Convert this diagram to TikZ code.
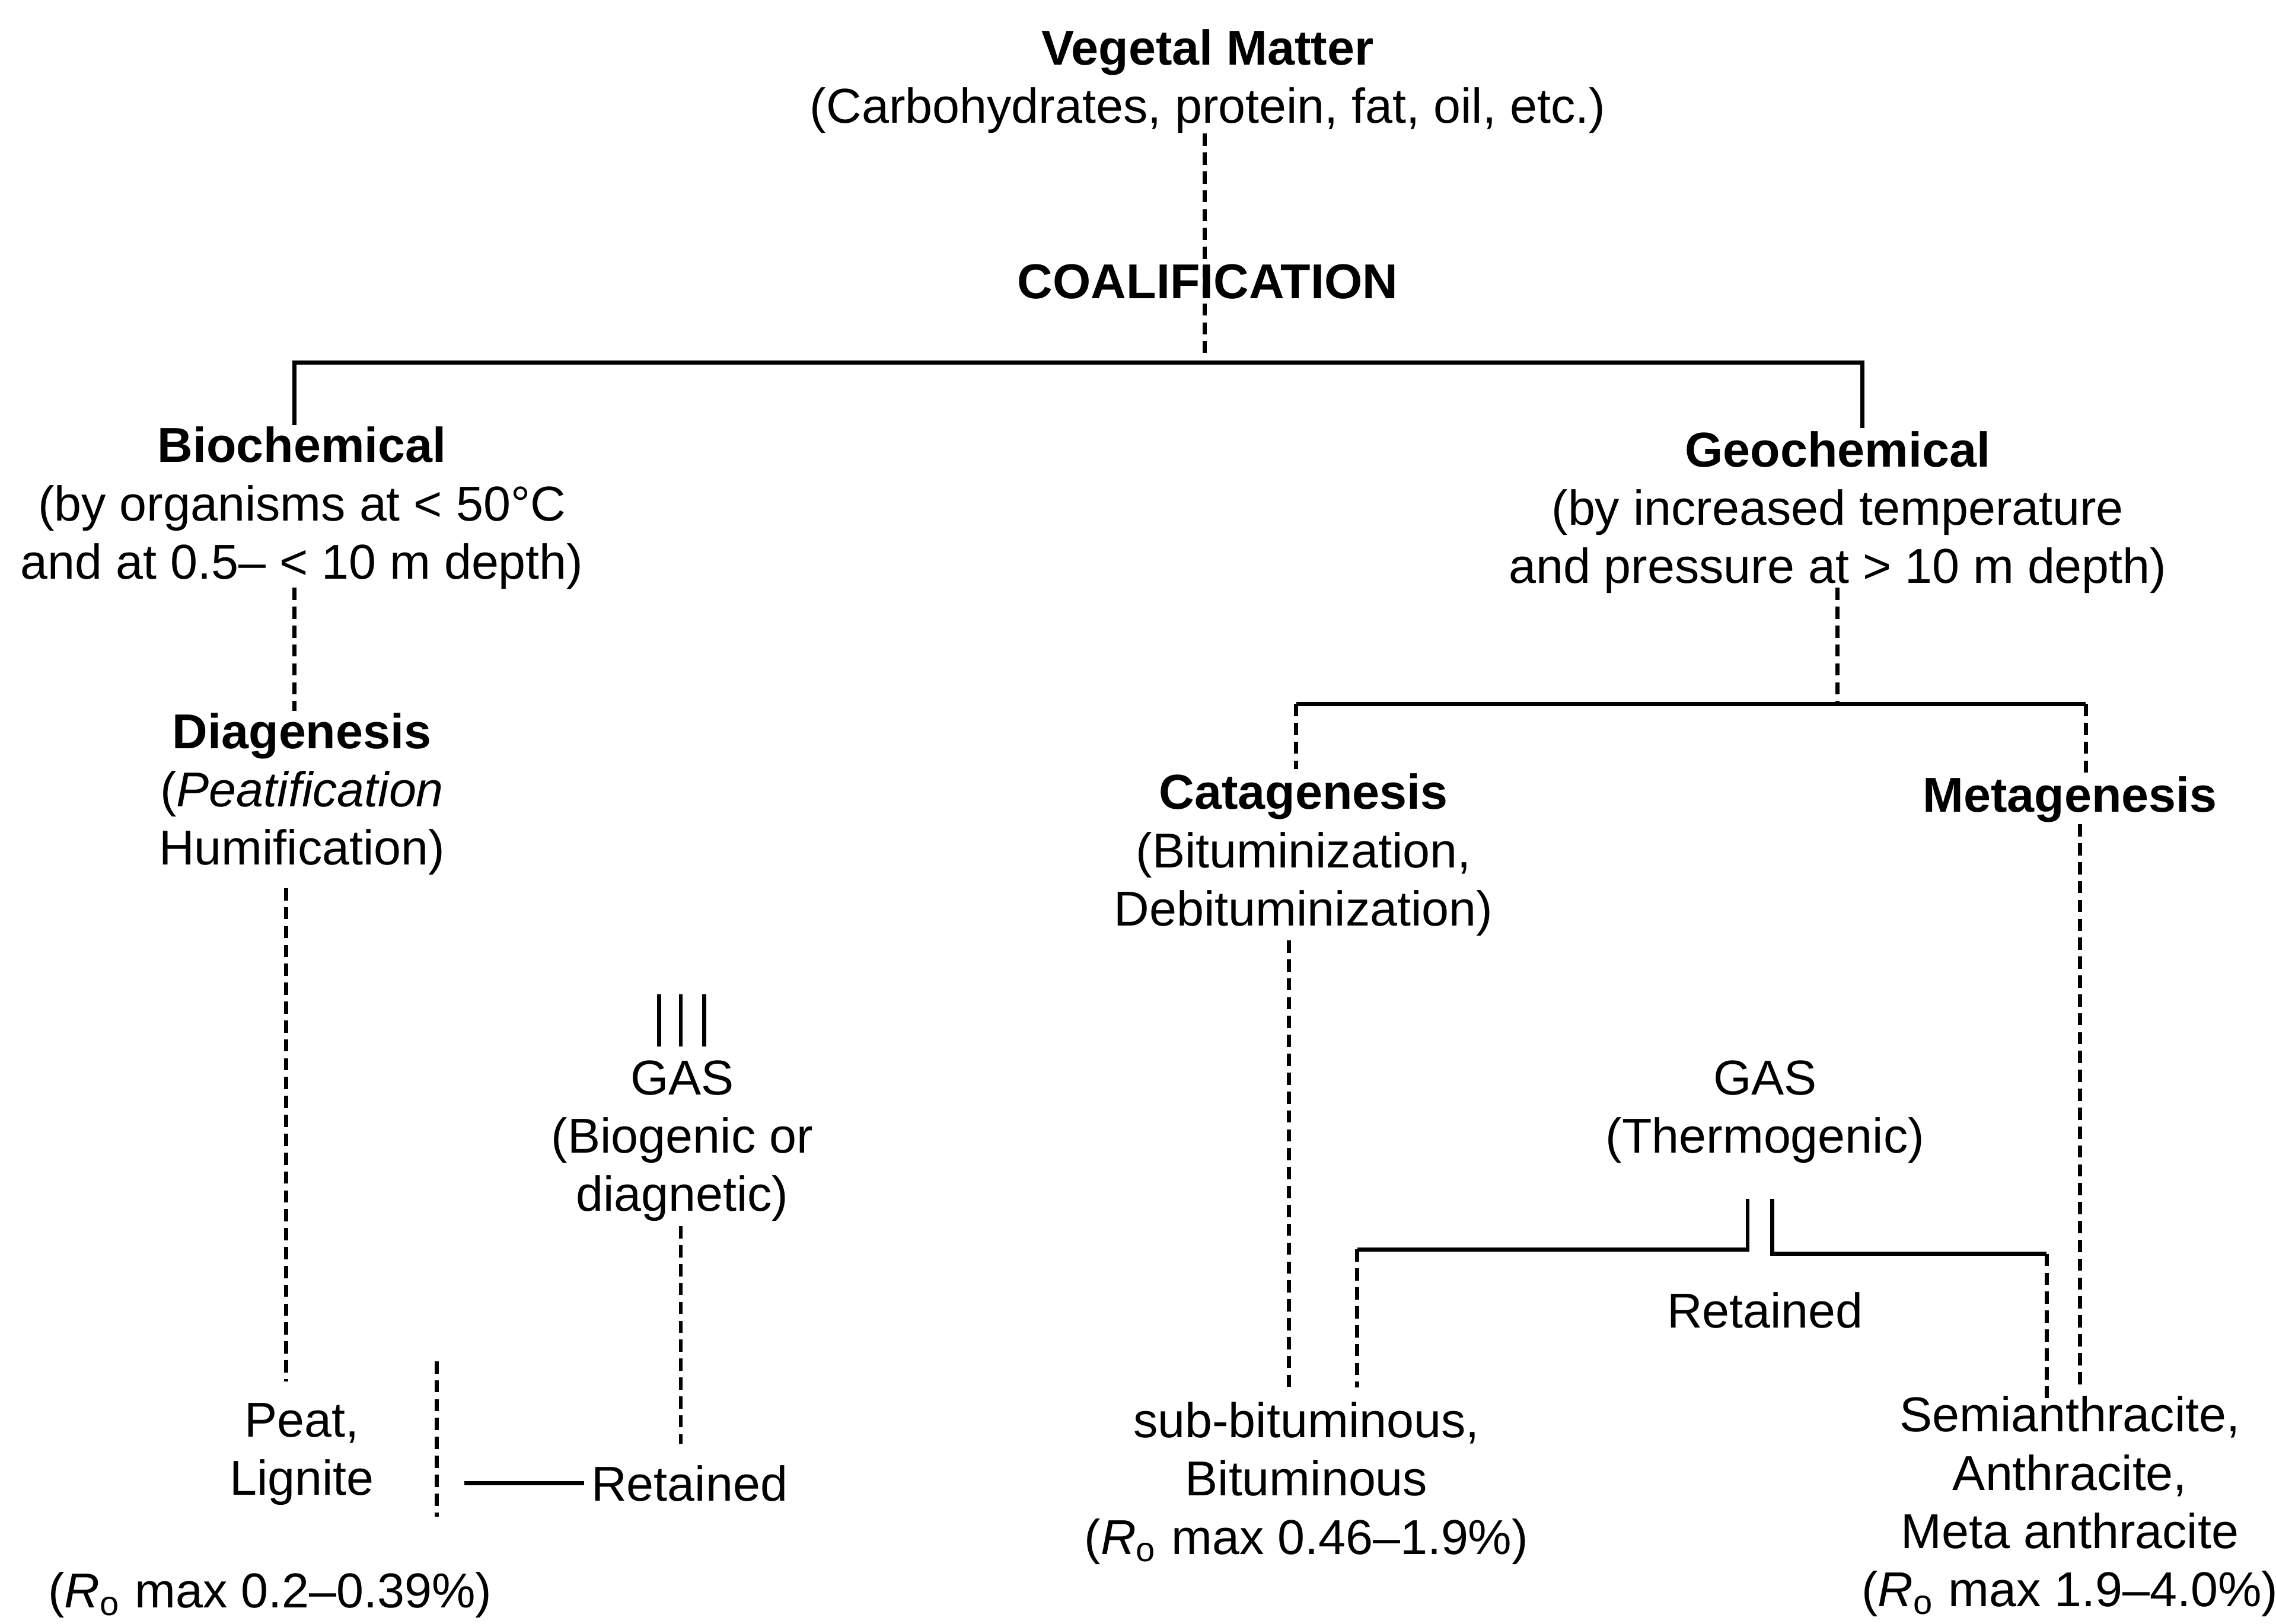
\documentclass[tikz,border=0pt]{standalone}
\usepackage{fontspec}
\setmainfont{Liberation Sans}

\begin{document}
\begin{tikzpicture}[x=0.01cm, y=-0.01cm, line width=0.8pt,
  font=\fontsize{9.6}{11.4}\selectfont,
  every node/.style={align=center, inner sep=0pt},
  link/.style={dash pattern=on 2.4pt off 1.3pt}]
  \useasboundingbox (0,0) rectangle (1568,1119);
  % top
  \node (veg) at (832,56) {\textbf{Vegetal Matter}\\(Carbohydrates, protein, fat, oil, etc.)};
  \node (coal) at (832,194) {\textbf{COALIFICATION}};
  \coordinate (v0) at (830,92);
  \coordinate (v1) at (830,243);
  \draw[link] (v0) -- (v1);
  \coordinate (t1) at (203,293);
  \coordinate (t2) at (203,250);
  \coordinate (t3) at (1283,250);
  \coordinate (t4) at (1283,295);
  \draw (t1) -- (t2) -- (t3) -- (t4);
  % biochemical branch
  \node (bio) at (208,350) {\textbf{Biochemical}\\(by organisms at < 50°C\\and at 0.5– < 10 m depth)};
  \node (dia) at (208,547) {\textbf{Diagenesis}\\(\textit{Peatification}\\Humification)};
  \node (peat) at (208,1002) {Peat,\\Lignite};
  \node (rlow) at (186,1099) {(\textit{R}\textsubscript{o} max 0.2–0.39\%)};
  \coordinate (b1) at (203,405);
  \coordinate (b2) at (203,490);
  \draw[link] (b1) -- (b2);
  \coordinate (d1) at (197,612);
  \coordinate (d2) at (197,952);
  \draw[link] (d1) -- (d2);
  \coordinate (p1) at (301,938);
  \coordinate (p2) at (301,1045);
  \draw[link] (p1) -- (p2);
  % biogenic gas
  \node (gas1) at (470,786) {GAS\\(Biogenic or\\diagnetic)};
  \node (ret1) at (475,1022) {Retained};
  \foreach \x in {454,469,485} \draw (\x,685) -- (\x,721);
  \coordinate (g1) at (469,845);
  \coordinate (g2) at (469,995);
  \draw[link] (g1) -- (g2);
  \coordinate (r1) at (320,1022);
  \draw (r1) -- ([xshift=-1pt]ret1.west);
  % geochemical branch
  \node (geo) at (1266,353) {\textbf{Geochemical}\\(by increased temperature\\and pressure at > 10 m depth)};
  \coordinate (h1) at (1266,405);
  \coordinate (h2) at (1266,485);
  \draw[link] (h1) -- (h2);
  \coordinate (k0) at (893,530);
  \coordinate (k1) at (893,485);
  \coordinate (k2) at (1437,485);
  \coordinate (k3) at (1437,537);
  \draw (k1) -- (k2);
  \draw[link] (k1) -- (k0);
  \draw[link] (k2) -- (k3);
  \node (cat) at (898,589) {\textbf{Catagenesis}\\(Bituminization,\\Debituminization)};
  \node (meta) at (1426,551) {\textbf{Metagenesis}};
  \coordinate (c1) at (888,648);
  \coordinate (c2) at (888,960);
  \draw[link] (c1) -- (c2);
  \coordinate (m1) at (1433,568);
  \coordinate (m2) at (1433,955);
  \draw[link] (m1) -- (m2);
  % thermogenic gas
  \node (gas2) at (1216,766) {GAS\\(Thermogenic)};
  \node (ret2) at (1216,903) {Retained};
  \coordinate (e1) at (1204,826);
  \coordinate (e2) at (1204,861);
  \coordinate (e3) at (935,861);
  \coordinate (e4) at (935,956);
  \draw (e1) -- (e2) -- (e3);
  \draw[link] (e3) -- (e4);
  \coordinate (f1) at (1221,826);
  \coordinate (f2) at (1221,864);
  \coordinate (f3) at (1410,864);
  \coordinate (f4) at (1410,964);
  \draw (f1) -- (f2) -- (f3);
  \draw[link] (f3) -- (f4);
  % products
  \node (sub) at (900,1022) {sub-bituminous,\\Bituminous\\(\textit{R}\textsubscript{o} max 0.46–1.9\%)};
  \node (semi) at (1426,1038) {Semianthracite,\\Anthracite,\\Meta anthracite\\(\textit{R}\textsubscript{o} max 1.9–4.0\%)};
\end{tikzpicture}
\end{document}
